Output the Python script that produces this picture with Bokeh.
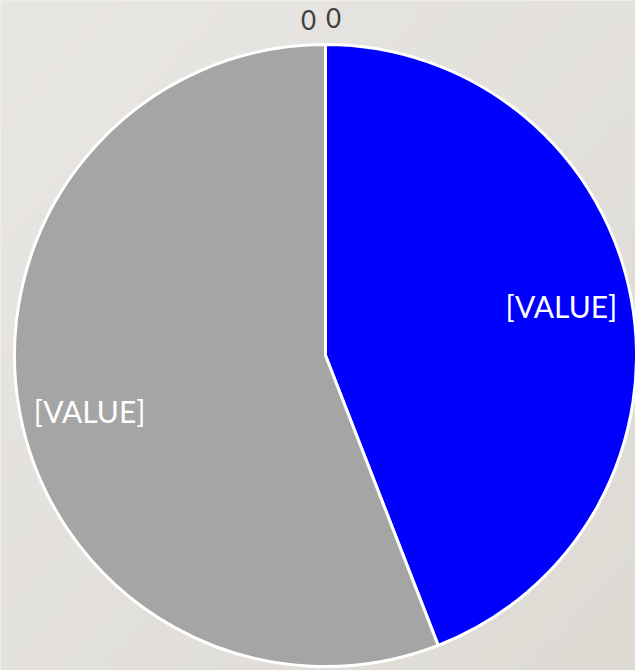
import math
import numpy as np
from bokeh.plotting import figure
from bokeh.models import ColumnDataSource, Range1d
from bokeh.core.properties import value
from bokeh.embed import file_html
from bokeh.resources import INLINE

# ---- data ----
categories = ["Series A", "Series B", "Series C", "Series D"]
values = [44.1, 55.9, 0.0, 0.0]
labels = ["[VALUE]", "[VALUE]", "0", "0"]
colors = ["#0000FF", "#A5A5A5", "#5B9BD5", "#ED7D31"]

total = sum(values)
starts, ends, mids = [], [], []
cum = 0.0
for v in values:
    a0 = math.pi / 2 - cum / total * 2 * math.pi
    cum += v
    a1 = math.pi / 2 - cum / total * 2 * math.pi
    starts.append(a1)
    ends.append(a0)
    mids.append((a0 + a1) / 2)

R = 311
nz = [i for i, v in enumerate(values) if v > 0]
src = ColumnDataSource(dict(cat=[categories[i] for i in nz], val=[values[i] for i in nz],
                            start=[starts[i] for i in nz], end=[ends[i] for i in nz],
                            color=[colors[i] for i in nz]))

W, H = 635, 670
x0, x1, y0, y1 = -325, 310, -315, 355
p = figure(width=W, height=H, output_backend="svg", toolbar_location=None,
           x_range=Range1d(x0, x1), y_range=Range1d(y0, y1), min_border=0)
p.axis.visible = False
p.grid.visible = False
p.outline_line_color = None
p.border_fill_color = "#e3e1dc"
p.background_fill_color = "#e3e1dc"

# subtle diagonal background gradient
n = 64
gy, gx = np.mgrid[0:n, 0:n]
t = (gx / (n - 1) + (1 - gy / (n - 1))) / 2.0  # 0 at bottom-left?.. adjust: top-left light
t = 1 - (gx / (n - 1) + (gy / (n - 1))) / 2.0  # rows from bottom: gy=0 bottom
# top-left (gx=0, gy=n-1) -> light ; bottom-right (gx=n-1, gy=0) -> dark
t = ((n - 1 - gx) / (n - 1) + gy / (n - 1)) / 2.0
c_light = np.array([233, 231, 228])
c_dark = np.array([222, 219, 213])
img = np.zeros((n, n), dtype=np.uint32)
view = img.view(dtype=np.uint8).reshape((n, n, 4))
for k in range(3):
    view[:, :, k] = (c_dark[k] + (c_light[k] - c_dark[k]) * t).astype(np.uint8)
view[:, :, 3] = 255
p.image_rgba(image=[img], x=x0, y=y0, dw=x1 - x0, dh=y1 - y0)

p.wedge(x=0, y=0, radius=R, start_angle="start", end_angle="end", direction="anticlock",
        fill_color="color", line_color="white", line_width=3, source=src)

# labels
in_x, in_y, in_t = [], [], []
out_x, out_y, out_t = [], [], []
for v, m, tx in zip(values, mids, labels):
    if v > 0:
        in_x.append(240 * math.cos(m)); in_y.append(240 * math.sin(m)); in_t.append(tx)
    else:
        out_x.append(337 * math.cos(m)); out_y.append(337 * math.sin(m)); out_t.append(tx)

p.text(x=in_x, y=in_y, text=in_t, y_offset=[-5, 11], text_color="white",
       text_font=value("Lato"), text_font_size="30px", text_align="center",
       text_baseline="middle")
p.text(x=out_x, y=out_y, text=out_t, x_offset=[-17, 8], y_offset=[1, -1],
       text_color="#404040", text_font=value("Lato"),
       text_font_size="26px", text_align="center", text_baseline="middle")

open("out.html", "w").write(file_html(p, INLINE))
